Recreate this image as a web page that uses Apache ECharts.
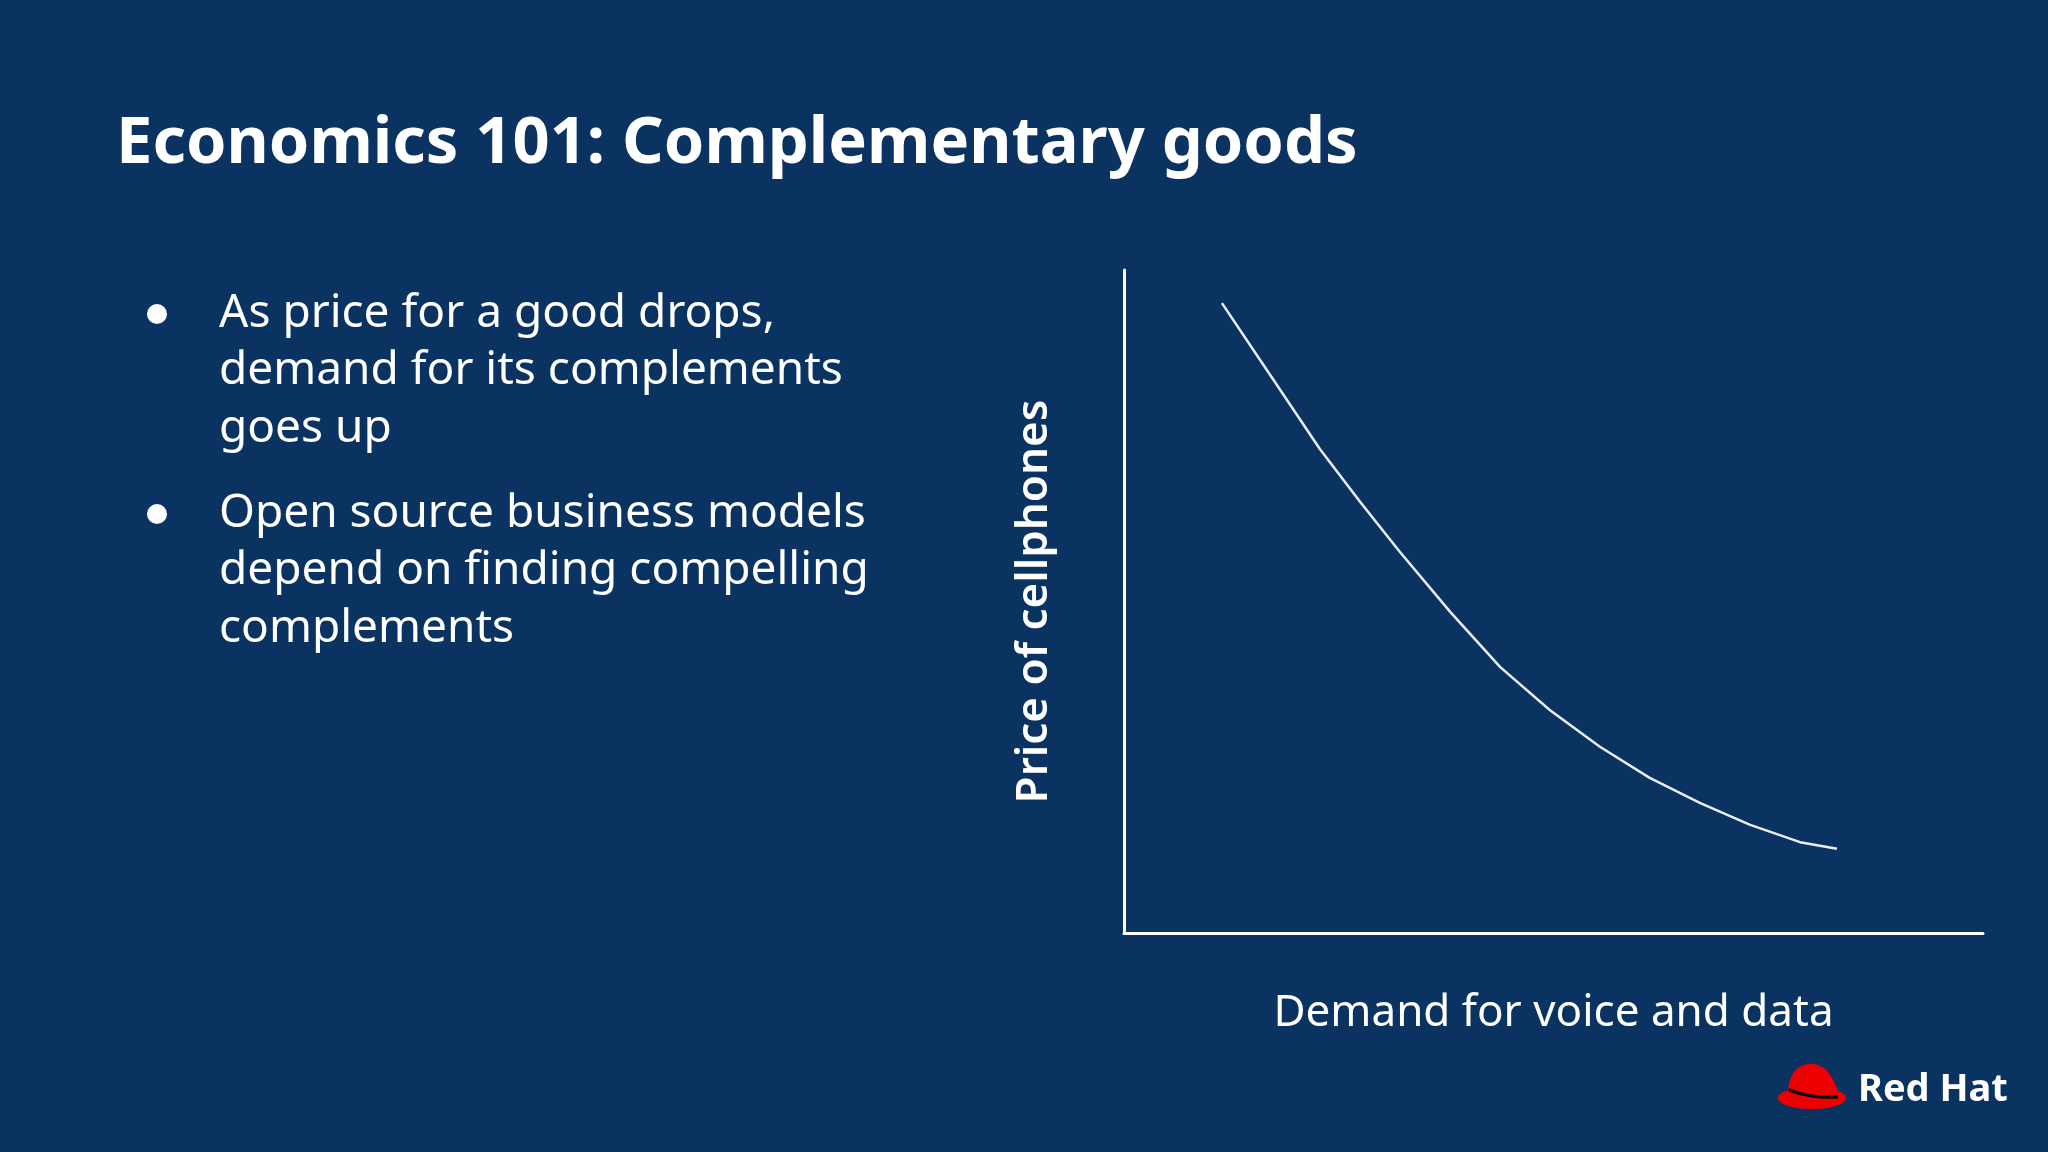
<!DOCTYPE html>
<html><head><meta charset="utf-8">
<script src="https://cdn.jsdelivr.net/npm/echarts@6/dist/echarts.min.js"></script>
<style>html,body{margin:0;padding:0;background:#0b3361}#c{width:2048px;height:1152px}</style>
</head><body><div id="c"></div>
<script>
const demand = [11.4, 17.0, 22.8, 27.5, 32.1, 38.0, 43.8, 49.6, 55.4, 61.2, 67.1, 72.9, 78.7, 83.0];
const price  = [95.0, 84.2, 73.0, 65.0, 57.5, 48.4, 40.1, 33.6, 28.1, 23.4, 19.6, 16.3, 13.7, 12.7];
const title = 'Economics 101: Complementary goods';
const bullets = [
  ['As price for a good drops,', 'demand for its complements', 'goes up'],
  ['Open source business models', 'depend on finding compelling', 'complements']
];
const xName = 'Demand for voice and data';
const yName = 'Price of cellphones';
const FONT = 'Noto Sans';
const chart = echarts.init(document.getElementById('c'));
function txt(x,y,t,font){return {type:'text', x:x, y:y, style:{text:t, fill:'#fff', font:font, textVerticalAlign:'middle', verticalAlign:'middle'}};}
const graphic = [ txt(116,144,title,'bold 65px "'+FONT+'"') ];
const lineY = [[314,371,429],[514,571,629]];
bullets.forEach((b,i)=>{
  graphic.push({type:'circle', shape:{cx:157, cy:lineY[i][0], r:10}, style:{fill:'#fff'}});
  b.forEach((t,j)=>graphic.push(txt(219,lineY[i][j],t,'46px "'+FONT+'"')));
});
// Red Hat logo
graphic.push({type:'ellipse', shape:{cx:1812, cy:1098, rx:34, ry:11}, style:{fill:'#ee0000'}});
graphic.push({type:'polygon', shape:{points:[[1790,1092],[1794,1072],[1808,1064],[1822,1067],[1832,1078],[1838,1098],[1812,1094]], smooth:0.4}, style:{fill:'#ee0000'}});
graphic.push({type:'polyline', shape:{points:[[1789,1090],[1812,1096],[1838,1097]], smooth:0.5}, style:{stroke:'#000', lineWidth:3, fill:null}});
graphic.push(txt(1858,1090,'Red Hat','bold 38px "'+FONT+'"'));
chart.setOption({
  backgroundColor:'#0b3361',
  animation:false,
  graphic:graphic,
  grid:{left:1124, top:270, right:65, bottom:219},
  xAxis:{type:'value', min:0, max:100, name:xName, nameLocation:'middle', nameGap:58,
    nameTextStyle:{color:'#fff', fontSize:44, fontFamily:FONT},
    axisLine:{lineStyle:{color:'#fff', width:3}}, axisTick:{show:false}, axisLabel:{show:false}, splitLine:{show:false}},
  yAxis:{type:'value', min:0, max:100, name:yName, nameLocation:'middle', nameGap:68, nameRotate:90,
    nameTextStyle:{color:'#fff', fontSize:44, fontFamily:FONT, fontWeight:600},
    axisLine:{show:true, lineStyle:{color:'#fff', width:3}}, axisTick:{show:false}, axisLabel:{show:false}, splitLine:{show:false}},
  series:[{type:'line', smooth:false, symbol:'none', data:demand.map((d,i)=>[d,price[i]]),
    lineStyle:{color:'#e8eef5', width:2.5, join:'round'}}]
});
</script></body></html>
